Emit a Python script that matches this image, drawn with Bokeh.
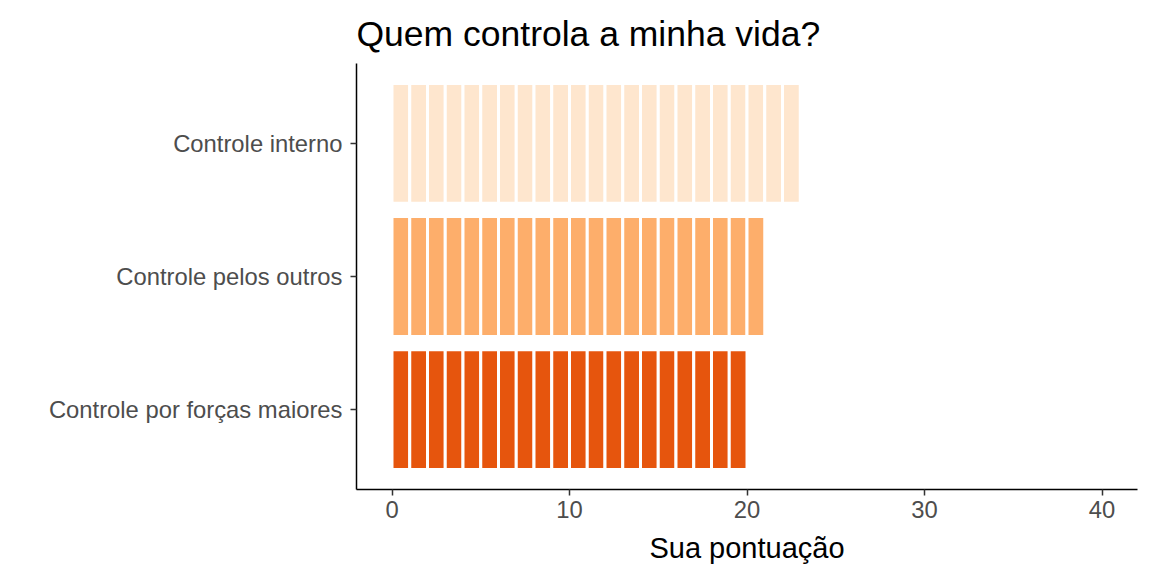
from bokeh.plotting import figure
from bokeh.models import ColumnDataSource, Range1d, FixedTicker
from bokeh.embed import file_html
from bokeh.resources import INLINE

categories = ["Controle por forças maiores", "Controle pelos outros", "Controle interno"]
scores = [20, 21, 23]
colors = ["#E6550D", "#FDAE6B", "#FEE6CE"]
x_ticks = [0, 10, 20, 30, 40]
title_text = "Quem controla a minha vida?"

left, right, bottom, top, fill = [], [], [], [], []
for k, (cat, val, col) in enumerate(zip(categories, scores, colors)):
    ypos = k + 1
    for i in range(val):
        left.append(i)
        right.append(i + 1)
        bottom.append(ypos - 0.45)
        top.append(ypos + 0.45)
        fill.append(col)

src = ColumnDataSource(dict(left=left, right=right, bottom=bottom, top=top, fill=fill))

FONT = "Liberation Sans"

p = figure(width=1144, height=568, output_backend="svg", toolbar_location=None,
           x_range=Range1d(-2, 42), y_range=Range1d(0.4, 3.6),
           min_border_left=356, min_border_right=7, min_border_top=63, min_border_bottom=79)

p.quad(left="left", right="right", bottom="bottom", top="top", fill_color="fill",
       line_color="white", line_width=3, source=src)

p.title.text = title_text
p.title.text_font = FONT
p.title.text_font_size = "35.5px"
p.title.text_font_style = "normal"
p.title.text_color = "black"
p.title.text_line_height = 0.6
p.title.vertical_align = "bottom"
p.title.offset = 0
p.title.standoff = 20

p.grid.visible = False
p.outline_line_color = None

p.xaxis.ticker = FixedTicker(ticks=x_ticks)
p.yaxis.ticker = FixedTicker(ticks=[1, 2, 3])
p.yaxis.major_label_overrides = {k + 1: c for k, c in enumerate(categories)}
p.xaxis.axis_label = "Sua pontuação"
p.xaxis.axis_label_text_font = FONT
p.xaxis.axis_label_text_font_size = "29px"
p.xaxis.axis_label_text_font_style = "normal"
p.xaxis.axis_label_text_color = "black"
p.xaxis.axis_label_standoff = 11

for ax in (p.xaxis, p.yaxis):
    ax.axis_line_color = "black"
    ax.axis_line_width = 1.5
    ax.major_tick_line_color = "#333333"
    ax.major_tick_line_width = 1.5
    ax.major_tick_out = 6
    ax.major_tick_in = 0
    ax.minor_tick_line_color = None
    ax.major_label_text_font = FONT
    ax.major_label_text_font_size = "23.8px"
    ax.major_label_text_color = "#4D4D4D"
p.yaxis.major_label_standoff = 8
p.xaxis.major_label_standoff = 5

open("out.html", "w").write(file_html(p, INLINE))
